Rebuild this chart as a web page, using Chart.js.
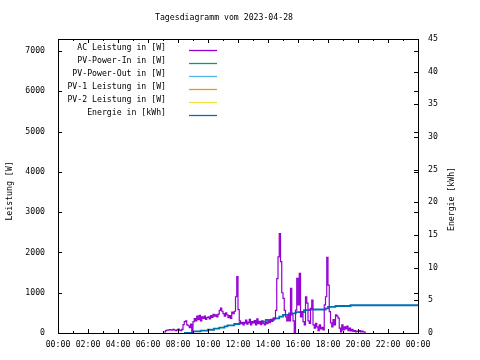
<!DOCTYPE html>
<html>
<head>
<meta charset="utf-8">
<script src="https://cdn.jsdelivr.net/npm/chart.js@4"></script>
<style>
  body { margin: 0; background: #fff; }
</style>
</head>
<body>
<canvas id="tagesGraph" width="480" height="360"></canvas>
<script>
// Tagesdiagramm vom 2023-04-28

const chartTitle = 'Tagesdiagramm vom 2023-04-28'
const leftAxisTitle = 'Leistung [W]'
const rightAxisTitle = 'Energie [kWh]'

const seriesLabels = [
    'AC Leistung in [W]',
    'PV-Power-In in [W]',
    'PV-Power-Out in [W]',
    'PV-1 Leistung in [W]',
    'PV-2 Leistung in [W]',
    'Energie in [kWh]'
]

const seriesColors = [
    '#9400D3',
    '#009E73',
    '#56B4E9',
    '#E69F00',
    '#F0E442',
    '#0072B2'
]

const hourLabels = ['00:00', '02:00', '04:00', '06:00', '08:00', '10:00', '12:00',
    '14:00', '16:00', '18:00', '20:00', '22:00', '00:00']
const powerTicks = [0, 1000, 2000, 3000, 4000, 5000, 6000, 7000]

// AC power, one reading every 5 minutes starting 07:05
const acStartHour = 7 + 5 / 60
const acStepMinutes = 5
const acValues = [
    30, 60, 75, 70, 85, 80, 70, 90, 75, 60, 80,                   // 07
    95, 70, 60, 90, 210, 280, 300, 200, 180, 130, 220, 30,        // 08
    280, 360, 300, 420, 330, 440, 300, 400, 360, 420, 340, 380,   // 09
    400, 350, 430, 390, 460, 420, 450, 400, 470, 560, 620, 540,   // 10
    480, 420, 500, 450, 380, 430, 360, 520, 480, 540, 900, 1400,  // 11
    580, 300, 230, 260, 200, 250, 320, 220, 260, 340, 200, 280,   // 12
    250, 310, 200, 350, 230, 280, 210, 300, 240, 200, 270, 230,   // 13
    300, 260, 340, 290, 370, 350, 560, 1350, 1890, 2470, 1770, 1000, // 14
    860, 560, 400, 300, 450, 300, 1110, 450, 300, 0, 570, 1360,   // 15
    700, 1480, 400, 530, 280, 200, 900, 740, 300, 240, 610, 820,  // 16
    200, 120, 240, 150, 60, 200, 100, 140, 80, 700, 900, 1880,    // 17
    1190, 530, 250, 150, 330, 200, 450, 420, 370, 120, 30, 200,   // 18
    80, 150, 100, 170, 60, 120, 50, 90, 40, 60, 30, 50,           // 19
    40, 60, 30, 45, 30, 20, 15                                    // 20
]

// daily energy counter
const energyHours = [8.4, 9.0, 9.5, 10.0, 10.4, 10.75, 11.1, 11.3, 11.75, 12.1, 12.6,
    13.1, 13.85, 14.4, 14.75, 15.0, 15.4, 15.85, 16.4, 16.8, 17.85, 18.0, 18.5, 19.5, 24.0]
const energyValues = [0.0, 0.25, 0.36, 0.5, 0.66, 0.81, 1.0, 1.17, 1.38, 1.58, 1.62,
    1.73, 2.0, 2.25, 2.5, 2.76, 3.0, 3.2, 3.5, 3.6, 3.78, 4.0, 4.13, 4.25, 4.25]

const FONT = '"DejaVu Sans Mono", "Liberation Mono", monospace'
const FONT_SIZE = 8.2

const acPoints = acValues.map((v, i) => ({ x: acStartHour + i * acStepMinutes / 60, y: v }))
const energyPoints = energyValues.map((v, i) => ({ x: energyHours[i], y: v }))

const makeSet = (idx, points, axis, width) => ({
    label: seriesLabels[idx],
    data: points,
    yAxisID: axis,
    borderColor: seriesColors[idx],
    backgroundColor: seriesColors[idx],
    borderWidth: width,
    pointRadius: 0,
    stepped: true,
    fill: false
})

const data = {
    datasets: [
        makeSet(0, acPoints, 'y', 1.2),
        makeSet(1, [], 'y', 1.2),
        makeSet(2, [], 'y', 1.2),
        makeSet(3, [], 'y', 1.2),
        makeSet(4, [], 'y', 1.2),
        makeSet(5, energyPoints, 'y2', 1.8)
    ]
}

// border, inward ticks, title, axis titles and key in gnuplot style
const gnuplotFrame = {
    id: 'gnuplotFrame',
    afterDraw(chart) {
        const { ctx, chartArea: a, scales } = chart
        const { x, y, y2 } = scales
        ctx.save()
        ctx.strokeStyle = '#000'
        ctx.lineWidth = 1
        ctx.strokeRect(a.left + 0.5, a.top + 0.5, a.right - a.left, a.bottom - a.top)

        ctx.beginPath()
        powerTicks.forEach(v => {
            const py = Math.round(y.getPixelForValue(v)) + 0.5
            ctx.moveTo(a.left, py); ctx.lineTo(a.left + 4, py)
            ctx.moveTo(a.right, py); ctx.lineTo(a.right - 4, py)
        })
        y2.ticks.forEach(t => {
            const py = Math.round(y2.getPixelForValue(t.value)) + 0.5
            ctx.moveTo(a.right, py); ctx.lineTo(a.right - 4, py)
        })
        for (let h = 1; h < 24; h++) {
            const px = Math.round(x.getPixelForValue(h)) + 0.5
            const len = h % 2 === 0 ? 4 : 2
            ctx.moveTo(px, a.bottom); ctx.lineTo(px, a.bottom - len)
            ctx.moveTo(px, a.top); ctx.lineTo(px, a.top + len)
        }
        ctx.stroke()

        ctx.fillStyle = '#000'
        ctx.font = FONT_SIZE + 'px ' + FONT
        ctx.textBaseline = 'middle'
        ctx.textAlign = 'center'
        ctx.fillText(chartTitle, 224, 18)

        ctx.save()
        ctx.translate(10, 191)
        ctx.rotate(-Math.PI / 2)
        ctx.fillText(leftAxisTitle, 0, 0)
        ctx.restore()
        ctx.save()
        ctx.translate(452, 199)
        ctx.rotate(-Math.PI / 2)
        ctx.fillText(rightAxisTitle, 0, 0)
        ctx.restore()

        chart.data.datasets.forEach((ds, i) => {
            const rowY = a.top + 9 + i * 13
            ctx.textAlign = 'right'
            ctx.fillStyle = '#000'
            ctx.fillText(ds.label, a.left + 108, rowY)
            ctx.strokeStyle = ds.borderColor
            ctx.lineWidth = 1.3
            ctx.beginPath()
            ctx.moveTo(a.left + 131, rowY + 2.5)
            ctx.lineTo(a.left + 159, rowY + 2.5)
            ctx.stroke()
        })
        ctx.restore()
    }
}

const tickFont = { family: FONT, size: FONT_SIZE }

const ctx = document.getElementById('tagesGraph')
new Chart(ctx, {
    type: 'line',
    data: data,
    plugins: [gnuplotFrame],
    options: {
        responsive: false,
        animation: false,
        layout: { padding: { top: 39, left: 0, right: 0, bottom: 0 } },
        plugins: {
            legend: { display: false },
            title: { display: false },
            tooltip: { enabled: false }
        },
        scales: {
            x: {
                type: 'linear',
                min: 0,
                max: 24,
                grid: { display: false, drawTicks: false },
                border: { display: false },
                ticks: {
                    stepSize: 2,
                    color: '#000',
                    font: tickFont,
                    padding: 7,
                    maxRotation: 0,
                    autoSkip: false,
                    callback: v => hourLabels[v / 2]
                },
                afterFit: s => { s.height = 27 }
            },
            y: {
                type: 'linear',
                position: 'left',
                min: 0,
                max: 7300,
                grid: { display: false, drawTicks: false },
                border: { display: false },
                ticks: {
                    color: '#000',
                    font: tickFont,
                    padding: 13,
                    autoSkip: false,
                    callback: v => String(v)
                },
                afterBuildTicks: s => { s.ticks = powerTicks.map(v => ({ value: v })) },
                afterFit: s => { s.width = 58 }
            },
            y2: {
                type: 'linear',
                position: 'right',
                min: 0,
                max: 45,
                grid: { display: false, drawTicks: false },
                border: { display: false },
                ticks: { stepSize: 5, color: '#000', font: tickFont, padding: 10, autoSkip: false },
                afterFit: s => { s.width = 62 }
            }
        }
    }
})
</script>
</body>
</html>
